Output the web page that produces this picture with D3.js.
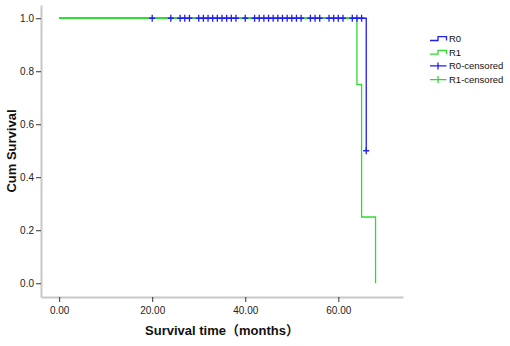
<!DOCTYPE html>
<html>
<head>
<meta charset="utf-8">
<script src="https://cdn.jsdelivr.net/npm/d3@7"></script>
<style>
    body { margin: 0; background: #fff; }
    svg { display: block; font-family: "Liberation Sans", Arial, "Noto Sans CJK SC", sans-serif; }
    .axis .domain { stroke: #c8c8c8; stroke-width: 2px; }
    .axis .tick line { stroke: #333; }
    .axis .tick text { fill: #222; font-size: 10px; }
    .axis-title { font-weight: bold; font-size: 13px; fill: #111; }
    .legend-label { font-size: 9.5px; fill: #111; }
</style>
</head>
<body>
<div id="chart"></div>
<script>
// Kaplan-Meier steps per group: event times (months) and survival after each step
const r0Time = [0, 66];
const r0Surv = [1.0, 0.5];
const r1Time = [0, 64, 65, 68];
const r1Surv = [1.0, 0.75, 0.25, 0.0];

// censored observations (months)
const r0Censored = [20, 24, 26, 27, 28, 30, 31, 32, 33, 34, 35, 36, 37, 38, 40,
    42, 43, 44, 45, 46, 47, 48, 49, 50, 51, 52, 54, 55, 56, 58, 59, 60, 61, 63, 64, 65, 66];
const r1Censored = [];

// axis ticks and legend
const xTicks = [0, 20, 40, 60];
const yTicks = [0, 0.2, 0.4, 0.6, 0.8, 1.0];
const groups = ['R0', 'R1'];
const groupColors = ['#1e1ef0', '#2edc2e'];
const legendLabels = ['R0', 'R1', 'R0-censored', 'R1-censored'];

class SurvivalChart {
    constructor(_config) {
        this.config = {
            parentElement: _config.parentElement,
            containerWidth: _config.containerWidth || 510,
            containerHeight: _config.containerHeight || 346,
            plot: { left: 41, right: 403, top: 5, bottom: 297 }
        };
        this.initVis();
    }

    initVis() {
        let vis = this;
        const p = vis.config.plot;

        vis.svg = d3.select(vis.config.parentElement).append('svg')
            .attr('width', vis.config.containerWidth)
            .attr('height', vis.config.containerHeight);

        vis.xScale = d3.scaleLinear()
            .domain([-3.9, 73.9])
            .range([p.left, p.right]);

        vis.yScale = d3.scaleLinear()
            .domain([-0.052, 1.05])
            .range([p.bottom, p.top]);

        vis.xAxis = d3.axisBottom(vis.xScale)
            .tickValues(xTicks)
            .tickFormat(d3.format('.2f'))
            .tickSizeInner(5)
            .tickSizeOuter(0)
            .tickPadding(5);

        vis.yAxis = d3.axisLeft(vis.yScale)
            .tickValues(yTicks)
            .tickFormat(d3.format('.1f'))
            .tickSizeInner(5)
            .tickSizeOuter(0)
            .tickPadding(2);

        vis.svg.append('g')
            .attr('class', 'axis x-axis')
            .attr('transform', `translate(0,${p.bottom})`)
            .call(vis.xAxis);

        vis.svg.append('g')
            .attr('class', 'axis y-axis')
            .attr('transform', `translate(${p.left},0)`)
            .call(vis.yAxis);

        vis.svg.append('text')
            .attr('class', 'axis-title')
            .attr('text-anchor', 'middle')
            .attr('x', (p.left + p.right) / 2)
            .attr('y', 335)
            .text('Survival time（months）');

        vis.svg.append('text')
            .attr('class', 'axis-title')
            .attr('text-anchor', 'middle')
            .attr('transform', `translate(16,${(p.top + p.bottom) / 2}) rotate(-90)`)
            .text('Cum Survival');

        vis.renderVis();
    }

    renderVis() {
        let vis = this;

        const line = d3.line()
            .x(d => vis.xScale(d[0]))
            .y(d => vis.yScale(d[1]))
            .curve(d3.curveStepAfter);

        // survival value at time t for a step curve
        const survAt = (times, surv, t) => surv[Math.max(0, d3.bisectRight(times, t) - 1)];

        const series = [
            { name: 'R0', times: r0Time, surv: r0Surv, censored: r0Censored, color: groupColors[0] },
            { name: 'R1', times: r1Time, surv: r1Surv, censored: r1Censored, color: groupColors[1] }
        ];

        vis.svg.selectAll('.km-line')
            .data(series)
            .join('path')
            .attr('class', 'km-line')
            .attr('fill', 'none')
            .attr('stroke', d => d.color)
            .attr('stroke-width', 1.3)
            .attr('d', d => line(d.times.map((t, i) => [t, d.surv[i]])));

        // censor crosses
        const marks = series.flatMap(s => s.censored.map(t => ({
            x: vis.xScale(t),
            y: vis.yScale(survAt(s.times, s.surv, t)),
            color: s.color
        })));

        vis.svg.selectAll('.censor')
            .data(marks)
            .join('path')
            .attr('class', 'censor')
            .attr('fill', 'none')
            .attr('stroke', d => d.color)
            .attr('stroke-width', 1.3)
            .attr('d', d => `M${d.x - 3},${d.y}H${d.x + 3}M${d.x},${d.y - 3.5}V${d.y + 3.5}`);

        // legend
        const legend = vis.svg.append('g')
            .attr('class', 'legend')
            .attr('transform', 'translate(430,0)');

        const rows = legend.selectAll('.legend-row')
            .data(legendLabels)
            .join('g')
            .attr('class', 'legend-row')
            .attr('transform', (d, i) => `translate(0,${38.5 + i * 13.7})`);

        rows.append('path')
            .attr('fill', 'none')
            .attr('stroke-width', 1.3)
            .attr('stroke', (d, i) => groupColors[i % 2])
            .attr('d', (d, i) => i < 2
                ? 'M0,2H8V-1.8H16.5V2'
                : 'M0,0H16.5M8,-3.5V3.5');

        rows.append('text')
            .attr('class', 'legend-label')
            .attr('x', 19)
            .attr('dy', '0.35em')
            .text(d => d);
    }
}

new SurvivalChart({ parentElement: '#chart', containerWidth: 510, containerHeight: 346 });
</script>
</body>
</html>
